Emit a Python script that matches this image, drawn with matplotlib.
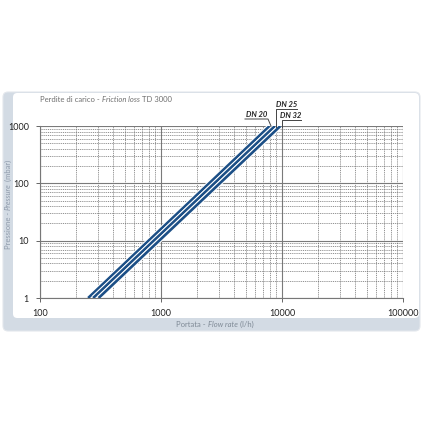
import numpy as np
import matplotlib.pyplot as plt
import matplotlib.patheffects as pe
from matplotlib.patches import FancyBboxPatch
from matplotlib.lines import Line2D
from matplotlib.ticker import FixedLocator, FuncFormatter, LogLocator, NullFormatter

# portata (l/h) ai due estremi, pressione 1 e 1000 mbar
series = ["DN 20", "DN 25", "DN 32"]
pressure = [1, 1000]
flow_dn20 = [250, 7900]
flow_dn25 = [275, 8750]
flow_dn32 = [305, 9700]
flows = [flow_dn20, flow_dn25, flow_dn32]

x_ticks = [100, 1000, 10000, 100000]
y_ticks = [1, 10, 100, 1000]

W = 423.0
def fx(px):
    return px / W
def fy(py):
    return 1 - py / W

plt.rcParams["font.family"] = ["Lato", "DejaVu Sans"]

fig = plt.figure(figsize=(4.23, 4.23), dpi=100)
fig.patch.set_facecolor("white")

strip = "#d3dbe4"
# pannello
fig.add_artist(FancyBboxPatch((fx(3), fy(331)), fx(417), fy(92) - fy(331),
                              boxstyle="round,pad=0,rounding_size=0.012",
                              transform=fig.transFigure, facecolor=strip,
                              edgecolor="#e3e7ec", lw=0.8, zorder=0))
fig.add_artist(FancyBboxPatch((fx(13), fy(318)), fx(406), fy(93) - fy(318),
                              boxstyle="round,pad=0,rounding_size=0.01",
                              transform=fig.transFigure, facecolor="white",
                              edgecolor="none", zorder=0))

ax = fig.add_axes([fx(40), fy(298), fx(403) - fx(40), fy(126) - fy(298)])
ax.set_xscale("log")
ax.set_yscale("log")
ax.set_xlim(100, 100000)
ax.set_ylim(1, 1000)
ax.set_facecolor("none")

ax.xaxis.set_major_locator(FixedLocator(x_ticks))
ax.yaxis.set_major_locator(FixedLocator(y_ticks))
ax.xaxis.set_minor_locator(LogLocator(base=10, subs=np.arange(2, 10)))
ax.yaxis.set_minor_locator(LogLocator(base=10, subs=np.arange(2, 10)))
ax.xaxis.set_minor_formatter(NullFormatter())
ax.yaxis.set_minor_formatter(NullFormatter())
fmt = FuncFormatter(lambda v, p: "%d" % v)
ax.xaxis.set_major_formatter(fmt)
ax.yaxis.set_major_formatter(fmt)

ax.grid(which="major", color="#7a7a7a", lw=0.8, ls="-")
ax.grid(which="minor", color="#666666", lw=0.5, ls=(0, (1.5, 1.2)))
ax.tick_params(which="major", length=3, width=0.7, color="#666666",
               labelsize=6.5, labelcolor="#222222", pad=5)
ax.tick_params(which="minor", length=0)
for s in ["top", "right"]:
    ax.spines[s].set_visible(False)
for s in ["left", "bottom"]:
    ax.spines[s].set_color("#777777")
    ax.spines[s].set_linewidth(0.8)

for q in flows:
    ax.plot(q, pressure, color="#1c4f86", lw=1.9, solid_capstyle="butt",
            path_effects=[pe.Stroke(linewidth=3.4, foreground="white"), pe.Normal()],
            zorder=5)

# etichette DN
lab_kw = dict(fontsize=5.5, fontweight="bold", fontstyle="italic", color="#222222",
              ha="center", va="baseline", transform=fig.transFigure)
fig.text(fx(257), fy(117), series[0], **lab_kw)
fig.text(fx(287), fy(107), series[1], **lab_kw)
fig.text(fx(291), fy(118), series[2], **lab_kw)
lk = dict(color="#444444", lw=0.7, transform=fig.transFigure)
fig.add_artist(Line2D([fx(245), fx(268), fx(271)], [fy(119), fy(119), fy(126)], **lk))
fig.add_artist(Line2D([fx(297), fx(276), fx(276)], [fy(109), fy(109), fy(127)], **lk))
fig.add_artist(Line2D([fx(301), fx(282), fx(282)], [fy(120), fy(120), fy(127)], **lk))

# testi con parte in corsivo
renderer = fig.canvas.get_renderer()
def mixed(x, y, parts, vertical=False, **kw):
    pos = y if vertical else x
    for txt, style in parts:
        if vertical:
            t = fig.text(x, pos, txt, fontstyle=style, rotation=90,
                         rotation_mode="anchor", ha="left", va="baseline", **kw)
            pos += t.get_window_extent(renderer).height / W
        else:
            t = fig.text(pos, y, txt, fontstyle=style, ha="left", va="baseline", **kw)
            pos += t.get_window_extent(renderer).width / W

mixed(fx(40), fy(102), [("Perdite di carico - ", "normal"), ("Friction loss", "italic"),
                        (" TD 3000", "normal")],
      fontsize=5.5, color="#6f6f6f")
mixed(fx(176), fy(327), [("Portata - ", "normal"), ("Flow rate", "italic"),
                         (" (l/h)", "normal")],
      fontsize=5.5, color="#7f8a96")
mixed(fx(10.5), fy(249), [("Pressione - ", "normal"), ("Pressure", "italic"),
                          (" (mbar)", "normal")], vertical=True,
      fontsize=5.5, color="#8f9bab")

fig.savefig("out.png", dpi=100)
